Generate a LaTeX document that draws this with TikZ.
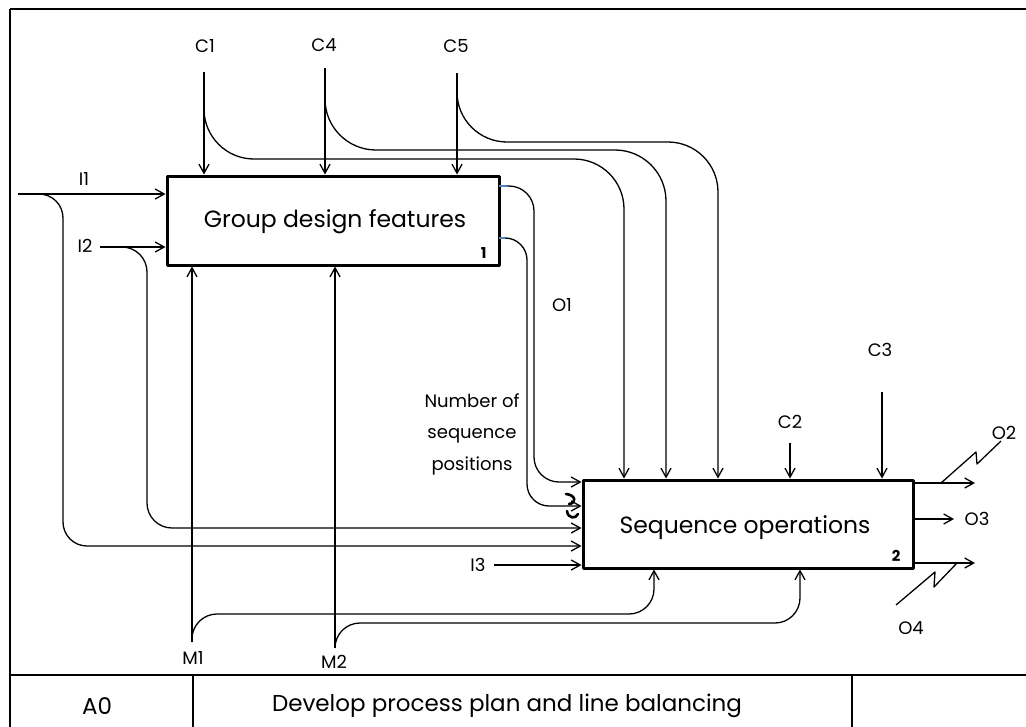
\documentclass[tikz,border=0pt]{standalone}
\usepackage{fontspec}
\setmainfont{Poppins}
\usetikzlibrary{arrows.meta}
\begin{document}
\begin{tikzpicture}[x=1pt,y=-1pt,
  line join=round,
  conn/.style={line width=1.3pt},
  arr/.style={conn,-{Straight Barb[length=9pt,width=10pt,line width=1.3pt]}},
  box/.style={draw,line width=3pt,inner sep=0pt},
  lbl/.style={font=\fontsize{18}{20}\selectfont,inner sep=1pt},
  boxtxt/.style={font=\fontsize{23.5}{26}\selectfont},
  num/.style={font=\bfseries\fontsize{15}{17}\selectfont},
  tun/.style={line width=2.6pt,line cap=round}]
\useasboundingbox (0,0) rectangle (1026,726);
\clip (0,0) rectangle (1026,726);
% frame and title table
\draw[line width=1.3pt] (10,9) -- (1030,9);
\draw[line width=1.3pt] (10,9) -- (10,730);
\draw[line width=1.3pt] (10,675) -- (1030,675);
\draw[line width=1.3pt] (193,675) -- (193,730);
\draw[line width=1.3pt] (852,675) -- (852,730);
\node[font=\fontsize{23}{26}\selectfont] (a0) at (97,706) {A0};
\node[font=\fontsize{23}{26}\selectfont] (title) at (507,706) {Develop process plan and line balancing};
% boxes
\node[box,minimum width=332pt,minimum height=89pt] (b1) at (333,220.5) {};
\node[boxtxt] (t1) at (335,222) {Group design features};
\node[num,anchor=south east] (n1) at (490,262) {1};
\node[box,minimum width=330pt,minimum height=88pt] (b2) at (748,524) {};
\node[boxtxt] (t2) at (745,528) {Sequence operations};
\node[num,anchor=south east] (n2) at (904,565) {2};
% coordinates
\coordinate (c1) at (204,72);
\coordinate (c4) at (325,68);
\coordinate (c5) at (457,73);
\coordinate (r1) at (624,159);
\coordinate (r4) at (666,150);
\coordinate (r5) at (718,142);
\coordinate (i1) at (18,194);
\coordinate (i2) at (100,247);
\coordinate (i3) at (494,565);
\coordinate (k1) at (63,546);
\coordinate (k2) at (147,528);
\coordinate (m1) at (192,642);
\coordinate (m2) at (335,648);
\coordinate (q1) at (654,614);
\coordinate (q2) at (800,623);
\coordinate (p1) at (499,186);
\coordinate (p2) at (499,238);
\coordinate (s1) at (534,482);
\coordinate (s2) at (527,506);
\coordinate (c2) at (790,443);
\coordinate (c3) at (882,392);
\coordinate (o2) at (975,483);
\coordinate (o3) at (954,519);
\coordinate (o4) at (975,563);
% labels
\node[lbl] (lc1) at (205,46) {C1};
\node[lbl] (lc4) at (324,45) {C4};
\node[lbl] (lc5) at (456,46) {C5};
\node[lbl] (li1) at (84,179) {I1};
\node[lbl] (li2) at (85,246) {I2};
\node[lbl] (li3) at (478,565) {I3};
\node[lbl] (lm1) at (193,658) {M1};
\node[lbl] (lm2) at (334,662) {M2};
\node[lbl] (lo1) at (562,305) {O1};
\node[lbl] (lc2) at (790,422) {C2};
\node[lbl] (lc3) at (880,350) {C3};
\node[lbl] (lo2) at (1004,433) {O2};
\node[lbl] (lo3) at (977,519) {O3};
\node[lbl] (lo4) at (911,628) {O4};
\node[font=\fontsize{18}{31.5}\selectfont,align=center] (nsp) at (472,434) {Number of\\sequence\\positions};
% controls
\draw[arr] (c1) -- (c1 |- b1.north);
\draw[arr] (c4) -- (c4 |- b1.north);
\draw[arr] (c5) -- (c5 |- b1.north);
\draw[arr,rounded corners=50pt] (c1) |- (r1) -- (r1 |- b2.north);
\draw[arr,rounded corners=51pt] (c4) |- (r4) -- (r4 |- b2.north);
\draw[arr,rounded corners=50pt] (c5) |- (r5) -- (r5 |- b2.north);
\draw[arr] (c2) -- (c2 |- b2.north);
\draw[arr] (c3) -- (c3 |- b2.north);
% inputs
\draw[arr] (i1) -- (i1 -| b1.west);
\draw[arr] (i2) -- (i2 -| b1.west);
\draw[arr,rounded corners=24pt] (i1) -| (k1) -- (k1 -| b2.west);
\draw[arr,rounded corners=25pt] (i2) -| (k2) -- (k2 -| b2.west);
\draw[arr] (i3) -- (i3 -| b2.west);
% mechanisms
\draw[arr] (m1) -- (m1 |- b1.south);
\draw[arr] (m2) -- (m2 |- b1.south);
\draw[arr,rounded corners=25pt] (m1) |- (q1) -- (q1 |- b2.south);
\draw[arr,rounded corners=25pt] (m2) |- (q2) -- (q2 |- b2.south);
% output O1 feedback
\draw[arr,rounded corners=25pt] (p1) -| (s1) -- (s1 -| b2.west);
\draw[arr,rounded corners=22pt] (p2) -| (s2) -- (s2 -| b2.west);
\draw[conn,color={rgb,255:red,79;green,129;blue,189}] (p1) -- ++(8,0);
\draw[conn,color={rgb,255:red,79;green,129;blue,189}] (p2) -- ++(6,0);
% tunnel marks
\draw[tun] (566,494) .. controls (576,495) and (577,503) .. (569,504);
\draw[tun] (567,511) .. controls (568,519) and (576,519) .. (578,514);
% outputs
\draw[arr] (b2.east |- o2) -- (o2);
\draw[arr] (b2.east |- o3) -- (o3);
\draw[arr] (b2.east |- o4) -- (o4);
\draw[conn] (941,483) -- (976,452) -- (977,464) -- (1001,441);
\draw[conn] (896,605) -- (935,572) -- (934,587) -- (957,563);
\end{tikzpicture}
\end{document}
